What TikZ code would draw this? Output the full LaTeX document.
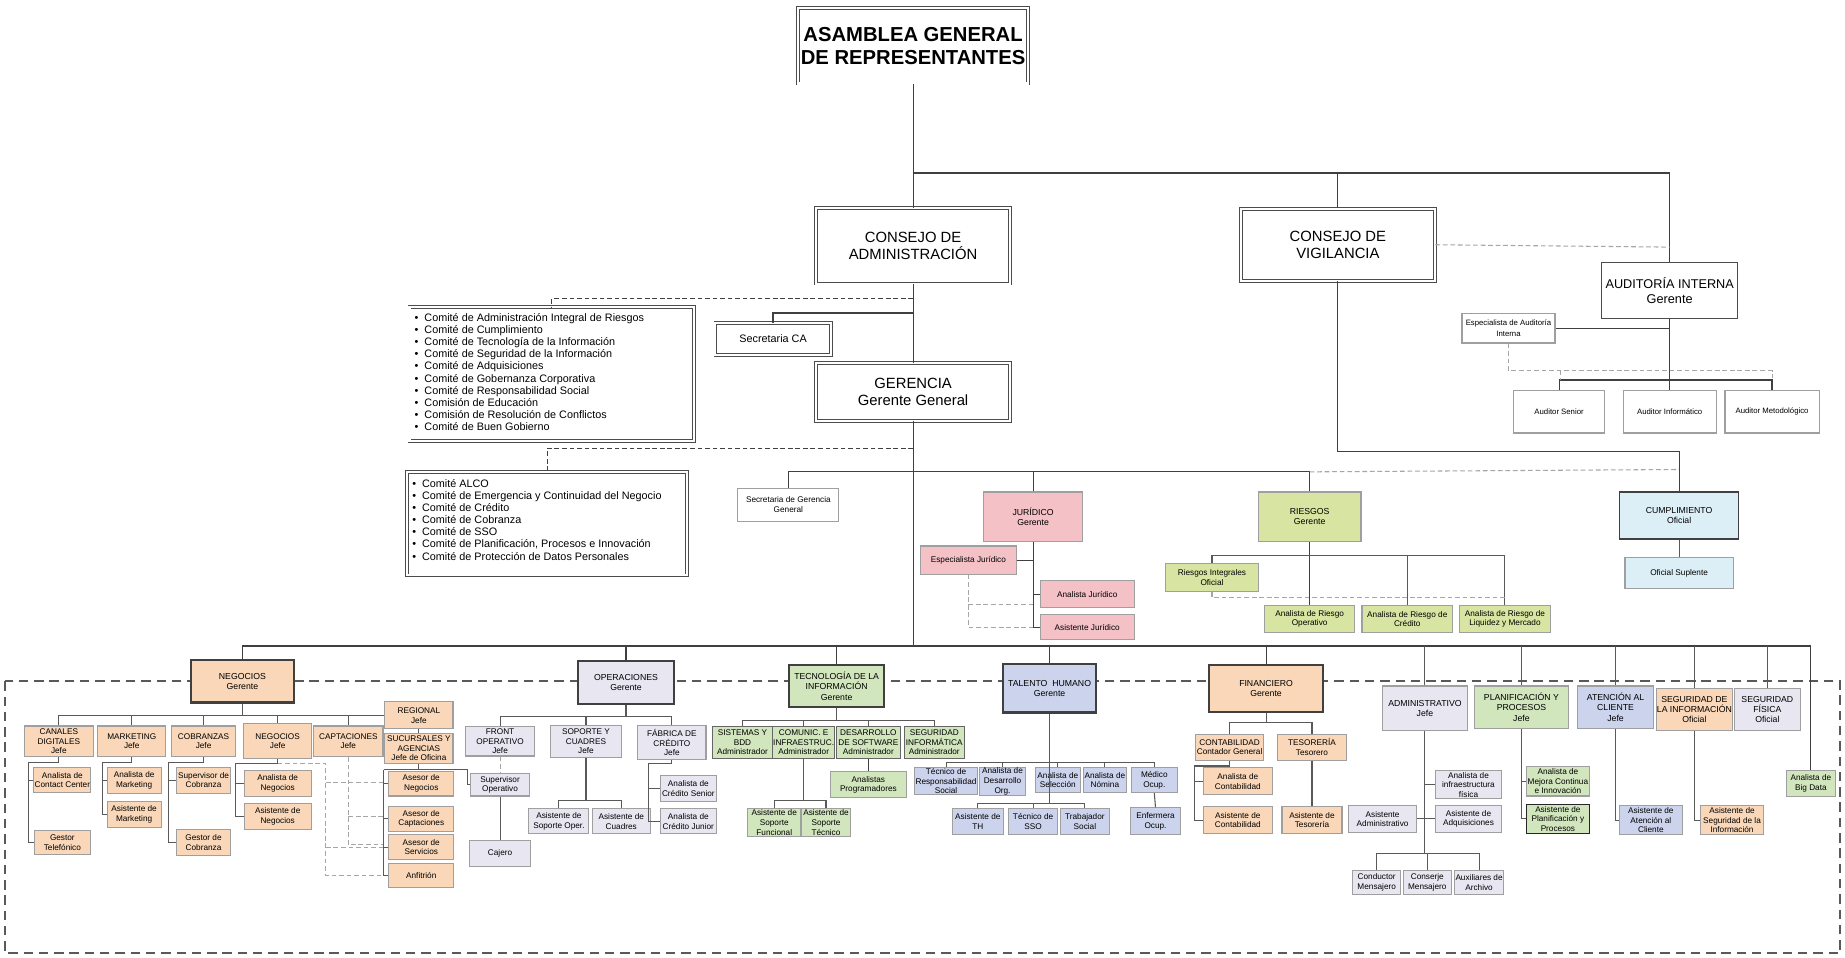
\documentclass[tikz,border=0pt]{standalone}
\usepackage{fontspec}
\setmainfont{Liberation Sans}
\newcommand\tny{\fontsize{3.5}{4.1}\selectfont}
\newcommand\hd{\fontsize{3.7}{4.4}\selectfont}
\definecolor{peach}{HTML}{F9D7B8}
\definecolor{lav}{HTML}{E8E6F0}
\definecolor{grn}{HTML}{D2E6BE}
\definecolor{blu}{HTML}{CCD3EC}
\definecolor{pnk}{HTML}{F4C1C6}
\definecolor{rsk}{HTML}{D8E4A1}
\definecolor{cyn}{HTML}{DCEEF6}
\newcommand\bx[6]{\node[#1, minimum width={#4*0.5pt}, minimum height={#5*0.5pt}] (#2) at (#3) {#6};}
\tikzset{
 box/.style={draw=gray!75, fill=white, align=center, inner sep=0.3pt, font=\tny, line width=0.45pt},
 head/.style={box, draw=black!75, line width=0.9pt, font=\hd},
 dbl/.style={draw=black!70, double=white, double distance=0.9pt, line width=0.35pt, align=center, inner sep=1pt},
 ln/.style={draw=gray!70!black, line width=0.45pt},
 tr/.style={draw=black!75, line width=0.5pt},
 dsh/.style={draw=gray!70, line width=0.45pt, dash pattern=on 2pt off 1.2pt},
}
\begin{document}
\begin{tikzpicture}[x=0.5pt,y=-0.5pt]
\useasboundingbox (0,0) rectangle (1568,814);
\fill[white] (0,0) rectangle (1568,814);
\draw[draw=black!65, line width=0.8pt, dash pattern=on 4pt off 2.5pt] (4,579) rectangle (1564,810);

% ---------- top ----------
\bx{dbl, font=\fontsize{8.6}{9.6}\selectfont\bfseries}{asam}{776,39}{195}{64}{ASAMBLEA GENERAL\\DE REPRESENTANTES}
\bx{dbl, font=\fontsize{6.3}{7.3}\selectfont}{cadm}{776,209}{165}{64}{CONSEJO DE\\ADMINISTRACIÓN}
\bx{dbl, font=\fontsize{6.3}{7.3}\selectfont}{cvig}{1137,208}{165}{61}{CONSEJO DE\\VIGILANCIA}
\bx{box, draw=black!70, font=\fontsize{5.4}{6.3}\selectfont}{audi}{1419,247}{116}{48}{AUDITORÍA INTERNA\\Gerente}
\bx{box, font=\fontsize{3.3}{4.6}\selectfont}{espa}{1282,279}{79}{25}{Especialista de Auditoría\\Interna}
\bx{box, font=\fontsize{3.3}{4}\selectfont}{asen}{1325,350}{77}{36}{Auditor Senior}
\bx{box, font=\fontsize{3.3}{4}\selectfont}{ainf}{1419,350}{79}{36}{Auditor Informático}
\bx{box, font=\fontsize{3.3}{4}\selectfont}{amet}{1506,350}{80}{36}{Auditor Metodológico}
\bx{dbl, font=\fontsize{4.6}{5.2}\selectfont}{secca}{657,288}{98}{27}{Secretaria CA}
\bx{dbl, font=\fontsize{6.3}{7.3}\selectfont}{ger}{776,333}{165}{49}{GERENCIA\\Gerente General}

\node[dbl, minimum width=121pt, minimum height=57pt, inner sep=0pt] (com1) at (469,318) {};
\node[anchor=north west, font=\fontsize{4.6}{5.15}\selectfont, align=left, inner sep=0pt] (com1t) at (352,266) {%
\textbullet\ \ Comité de Administración Integral de Riesgos\\
\textbullet\ \ Comité de Cumplimiento\\
\textbullet\ \ Comité de Tecnología de la Información\\
\textbullet\ \ Comité de Seguridad de la Información\\
\textbullet\ \ Comité de Adquisiciones\\
\textbullet\ \ Comité de Gobernanza Corporativa\\
\textbullet\ \ Comité de Responsabilidad Social\\
\textbullet\ \ Comisión de Educación\\
\textbullet\ \ Comisión de Resolución de Conflictos\\
\textbullet\ \ Comité de Buen Gobierno}; 
\node[dbl, minimum width=119pt, minimum height=44pt, inner sep=0pt] (com2) at (465,445) {};
\node[anchor=north west, font=\fontsize{4.6}{5.15}\selectfont, align=left, inner sep=0pt] (com2t) at (350,407) {%
\textbullet\ \ Comité ALCO\\
\textbullet\ \ Comité de Emergencia y Continuidad del Negocio\\
\textbullet\ \ Comité de Crédito\\
\textbullet\ \ Comité de Cobranza\\
\textbullet\ \ Comité de SSO\\
\textbullet\ \ Comité de Planificación, Procesos e Innovación\\
\textbullet\ \ Comité de Protección de Datos Personales};

\bx{box}{secg}{670,429}{86}{28}{Secretaria de Gerencia\\General}
\bx{head, fill=pnk, draw=gray!75, line width=0.6pt}{jur}{878,439}{84}{42}{JURÍDICO\\Gerente}
\bx{box, fill=pnk}{espj}{823,476}{81}{24}{Especialista Jurídico}
\bx{box, fill=pnk}{anj}{924,505}{80}{23}{Analista Jurídico}
\bx{box, fill=pnk}{asj}{924,533}{80}{21}{Asistente Jurídico}
\bx{head, fill=rsk, draw=gray!75, line width=0.6pt}{ries}{1113,439}{87}{42}{RIESGOS\\Gerente}
\bx{box, fill=rsk}{rint}{1030,491}{79}{24}{Riesgos Integrales\\Oficial}
\bx{box, fill=rsk}{rop}{1113,526}{77}{23}{Analista de Riesgo\\Operativo}
\bx{box, fill=rsk}{rcr}{1196,526}{77}{23}{Analista de Riesgo de\\Crédito}
\bx{box, fill=rsk}{rliq}{1279,526}{77}{23}{Analista de Riesgo de\\Liquidez y Mercado}
\bx{head, fill=cyn, line width=0.6pt}{cump}{1427,438}{101}{40}{CUMPLIMIENTO\\Oficial}
\bx{box, fill=cyn}{supl}{1427,487}{92}{27}{Oficial Suplente}

% ---------- level 2 ----------
\bx{head, fill=peach}{neg}{206,579}{87}{36}{NEGOCIOS\\Gerente}
\bx{head, fill=lav}{ope}{532,580}{81}{37}{OPERACIONES\\Gerente}
\bx{head, fill=grn}{ti}{711,583}{81}{36}{TECNOLOGÍA DE LA\\INFORMACIÓN\\Gerente}
\bx{head, fill=blu}{th}{892,585}{79}{41}{TALENTO\ \ HUMANO\\Gerente}
\bx{head, fill=peach}{fin}{1076,585}{97}{40}{FINANCIERO\\Gerente}
\bx{box, fill=lav, font=\hd}{adm}{1211,602}{72}{38}{ADMINISTRATIVO\\Jefe}
\bx{box, fill=grn, font=\hd}{plan}{1293,601}{80}{36}{PLANIFICACIÓN Y\\PROCESOS\\Jefe}
\bx{box, fill=blu, font=\hd}{aten}{1373,601}{64}{36}{ATENCIÓN AL\\CLIENTE\\Jefe}
\bx{box, fill=peach, font=\hd}{sinf}{1440,603}{61}{36}{SEGURIDAD DE\\LA INFORMACIÓN\\Oficial}
\bx{box, fill=lav, font=\hd}{sfis}{1502,603}{56}{36}{SEGURIDAD\\FÍSICA\\Oficial}
\bx{box, fill=grn}{bigd}{1539,666}{42}{22}{Analista de\\Big Data}

% Negocios
\bx{box, fill=peach}{can}{50,630}{59}{26}{CANALES\\DIGITALES\\Jefe}
\bx{box, fill=peach}{mkt}{112,630}{58}{26}{MARKETING\\Jefe}
\bx{box, fill=peach}{cob}{173,630}{54}{26}{COBRANZAS\\Jefe}
\bx{box, fill=peach}{negj}{236,630}{58}{30}{NEGOCIOS\\Jefe}
\bx{box, fill=peach}{capt}{296,630}{59}{26}{CAPTACIONES\\Jefe}
\bx{box, fill=peach}{reg}{356,608}{58}{23}{REGIONAL\\Jefe}
\bx{box, fill=peach}{suc}{356,636}{58}{25}{SUCURSALES Y\\AGENCIAS\\Jefe de Oficina}
\bx{box, fill=peach}{acc}{53,663}{48}{21}{Analista de\\Contact Center}
\bx{box, fill=peach}{gtel}{53,716}{48}{21}{Gestor\\Telefónico}
\bx{box, fill=peach}{anmk}{114,663}{46}{22}{Analista de\\Marketing}
\bx{box, fill=peach}{asmk}{114,692}{46}{22}{Asistente de\\Marketing}
\bx{box, fill=peach}{scob}{173,663}{46}{22}{Supervisor de\\Cobranza}
\bx{box, fill=peach}{gcob}{173,716}{46}{22}{Gestor de\\Cobranza}
\bx{box, fill=peach}{anneg}{236,666}{57}{22}{Analista de\\Negocios}
\bx{box, fill=peach}{asneg}{236,694}{57}{22}{Asistente de\\Negocios}
\bx{box, fill=peach}{aneg}{358,666}{55}{21}{Asesor de\\Negocios}
\bx{box, fill=peach}{acap}{358,696}{55}{21}{Asesor de\\Captaciones}
\bx{box, fill=peach}{aser}{358,720}{55}{21}{Asesor de\\Servicios}
\bx{box, fill=peach}{anf}{358,744}{55}{21}{Anfitrión}

% Operaciones
\bx{box, fill=lav}{fro}{425,630}{58}{25}{FRONT\\OPERATIVO\\Jefe}
\bx{box, fill=lav}{sop}{498,630}{61}{27}{SOPORTE Y\\CUADRES\\Jefe}
\bx{box, fill=lav}{fab}{571,631}{58}{29}{FÁBRICA DE\\CRÉDITO\\Jefe}
\bx{box, fill=lav}{sup}{425,667}{50}{19}{Supervisor\\Operativo}
\bx{box, fill=lav}{caj}{425,725}{52}{22}{Cajero}
\bx{box, fill=lav}{asop}{475,698}{51}{21}{Asistente de\\Soporte Oper.}
\bx{box, fill=lav}{acua}{528,698}{49}{21}{Asistente de\\Cuadres}
\bx{box, fill=lav}{acs}{585,670}{48}{22}{Analista de\\Crédito Senior}
\bx{box, fill=lav}{acj}{585,698}{48}{21}{Analista de\\Crédito Junior}

% TI
\bx{box, fill=grn, draw=black!60}{sis}{631,631}{51}{27}{SISTEMAS Y\\BDD\\Administrador}
\bx{box, fill=grn, draw=black!60}{com}{683,631}{49}{27}{COMUNIC. E\\INFRAESTRUC.\\Administrador}
\bx{box, fill=grn, draw=black!60}{des}{738,631}{54}{27}{DESARROLLO\\DE SOFTWARE\\Administrador}
\bx{box, fill=grn, draw=black!60}{seg}{794,631}{51}{27}{SEGURIDAD\\INFORMÁTICA\\Administrador}
\bx{box, fill=grn}{apro}{738,667}{64}{22}{Analistas\\Programadores}
\bx{box, fill=grn}{asf}{658,699}{45}{24}{Asistente de\\Soporte\\Funcional}
\bx{box, fill=grn}{ast}{702,699}{41}{24}{Asistente de\\Soporte\\Técnico}

% Talento
\bx{box, fill=blu}{trs}{804,664}{53}{23}{Técnico de\\Responsabilidad\\Social}
\bx{box, fill=blu}{ado}{852,664}{39}{23}{Analista de\\Desarrollo\\Org.}
\bx{box, fill=blu}{asel}{899,663}{38}{21}{Analista de\\Selección}
\bx{box, fill=blu}{anom}{939,663}{37}{21}{Analista de\\Nómina}
\bx{box, fill=blu}{med}{981,663}{39}{21}{Médico\\Ocup.}
\bx{box, fill=blu}{enf}{982,698}{43}{23}{Enfermera\\Ocup.}
\bx{box, fill=blu}{ath}{831,698}{43}{22}{Asistente de\\TH}
\bx{box, fill=blu}{tsso}{878,698}{42}{22}{Técnico de\\SSO}
\bx{box, fill=blu}{tsoc}{922,698}{42}{22}{Trabajador\\Social}

% Financiero
\bx{box, fill=peach}{cont}{1045,635}{58}{22}{CONTABILIDAD\\Contador General}
\bx{box, fill=peach}{tes}{1115,635}{58}{22}{TESORERÍA\\Tesorero}
\bx{box, fill=peach}{ancont}{1052,664}{59}{23}{Analista de\\Contabilidad}
\bx{box, fill=peach}{ascont}{1052,697}{59}{23}{Asistente de\\Contabilidad}
\bx{box, fill=peach}{astes}{1115,697}{51}{23}{Asistente de\\Tesorería}

% Administrativo
\bx{box, fill=lav}{ainfra}{1248,667}{56}{24}{Analista de\\infraestructura\\física}
\bx{box, fill=lav}{asadq}{1248,696}{56}{23}{Asistente de\\Adquisiciones}
\bx{box, fill=lav}{asadm}{1175,696}{58}{23}{Asistente\\Administrativo}
\bx{box, fill=lav}{cond}{1170,750}{41}{21}{Conductor\\Mensajero}
\bx{box, fill=lav}{cons}{1213,750}{41}{21}{Conserje\\Mensajero}
\bx{box, fill=lav}{aux}{1257,750}{41}{21}{Auxiliares de\\Archivo}

\bx{box, fill=grn}{amej}{1324,664}{54}{25}{Analista de\\Mejora Continua\\e Innovación}
\bx{box, fill=grn, draw=black!85}{asplan}{1324,696}{54}{25}{Asistente de\\Planificación y\\Procesos}
\bx{box, fill=blu}{asat}{1403,697}{54}{25}{Asistente de\\Atención al\\Cliente}
\bx{box, fill=peach}{assi}{1472,697}{54}{25}{Asistente de\\Seguridad de la\\Información}

% ---------- connectors ----------
\draw[tr] (asam.south) -- (cadm.north);
\draw[tr] (776,147) -| (cvig.north);
\draw[tr] (776,147) -| (audi.north);
\draw[dsh] (cvig.east) -- (1419,210);
\draw[tr] (cadm.south) -- (ger.north);
\draw[tr] (776,266) -| (secca.north);
\draw[tr, dash pattern=on 2pt off 1.2pt] (776,254) -| (com1.north);
\draw[tr] (ger.south) -- (776,549);
\draw[tr, dash pattern=on 2pt off 1.2pt] (776,381) -| (com2.north);
\draw[tr] (secg.north) |- (776,401) -| (ries.north);
\draw[tr] (878,401) -- (jur.north);
\draw[dsh] (1113,401) -- (1427,399);
\draw[tr] (cvig.south) |- (1427,384) -- (cump.north);
\draw[ln] (cump.south) -- (supl.north);
% auditoria
\draw[tr] (audi.south) -- (ainf.north);
\draw[tr] (espa.east) -- (1419,279);
\draw[tr] (asen.north) |- (1419,323) -| (amet.north);
\draw[dsh] (espa.south) |- (1506,315) -- (1506,323);
\draw[dsh] (1326,315) -- (1326,323);
% juridico
\draw[tr] (jur.south) |- (asj.west);
\draw[tr] (878,505) -- (anj.west);
\draw[tr] (espj.east) -- (878,476);
\draw[dsh] (espj.south) |- (878,533);
\draw[dsh] (823,514) -- (878,514);
% riesgos
\draw[tr] (ries.south) -- (rop.north);
\draw[ln] (rint.north) |- (1113,472) -| (rliq.north);
\draw[ln] (1196,472) -- (rcr.north);
\draw[dsh] (rint.south) |- (1279,508);
% main bus
\draw[tr] (neg.north) |- (776,549) -| (bigd.north);
\foreach \n in {ope,ti,th,fin} \draw[tr] (\n.north) -- (\n.north|-0,549);
\foreach \n in {adm,plan,aten,sinf,sfis} \draw[ln] (\n.north) -- (\n.north|-0,549);
% negocios
\draw[ln] (neg.south) -- (206,608);
\draw[ln] (can.north) |- (reg.west);
\foreach \n in {mkt,cob,negj,capt} \draw[ln] (\n.north) -- (\n.north|-0,608);
\draw[ln] (reg.south) -- (suc.north);
\draw[ln] (can.south) -- (50,648) -| (24,716) -- (gtel.west);
\draw[ln] (24,663) -- (acc.west);
\draw[ln] (mkt.south) -- (112,648) -| (87,692) -- (asmk.west);
\draw[ln] (87,663) -- (anmk.west);
\draw[ln] (cob.south) -- (173,648) -| (143,716) -- (gcob.west);
\draw[ln] (143,663) -- (scob.west);
\draw[ln] (negj.south) -- (236,649) -| (200,694) -- (asneg.west);
\draw[ln] (200,666) -- (anneg.west);
\draw[dsh] (236,649) -| (277,744) -- (326,744);
\draw[dsh] (277,665) -- (326,665);
\draw[dsh] (277,720) -- (326,720);
\draw[dsh] (capt.south) |- (326,718);
\draw[dsh] (296,694) -- (326,694);
\draw[ln] (suc.south) -- (356,654);
\draw[ln] (326,654) -- (397,654) |- (sup.west);
\draw[ln] (326,654) |- (anf.west);
\draw[ln] (326,666) -- (aneg.west);
\draw[ln] (326,696) -- (acap.west);
\draw[ln] (326,720) -- (aser.west);
% operaciones
\draw[ln] (ope.south) -- (532,609);
\draw[ln] (fro.north) |- (532,609) -| (fab.north);
\draw[ln] (sop.north) -- (498,609);
\draw[dsh] (fro.south) -- (sup.north);
\draw[ln] (sup.south) -- (caj.north);
\draw[ln] (sop.south) -- (498,680);
\draw[ln] (asop.north) |- (498,680) -| (acua.north);
\draw[ln] (fab.south) -- (571,649) -| (551,698) -- (acj.west);
\draw[ln] (551,670) -- (acs.west);
% TI
\draw[ln] (ti.south) -- (711,612);
\draw[ln] (sis.north) |- (711,612) -| (seg.north);
\draw[ln] (com.north) -- (683,612);
\draw[ln] (des.north) -- (738,612);
\draw[tr] (des.south) -- (apro.north);
\draw[ln] (com.south) -- (683,680);
\draw[ln] (asf.north) |- (683,680) -| (ast.north);
% talento
\draw[ln] (th.south) -- (892,683);
\draw[ln] (trs.north) |- (892,648) -| (med.north);
\foreach \n in {ado,asel,anom} \draw[ln] (\n.north) -- (\n.north|-0,648);
\draw[ln] (med.south) -- (enf.north);
\draw[ln] (ath.north) |- (892,683) -| (tsoc.north);
\draw[ln] (tsso.north) -- (878,683);
% financiero
\draw[ln] (fin.south) -- (1076,614);
\draw[ln] (cont.north) |- (1076,614) -| (tes.north);
\draw[ln] (cont.south) -- (1045,651) -| (1015,697) -- (ascont.west);
\draw[ln] (1015,664) -- (ancont.west);
\draw[ln] (tes.south) -- (astes.north);
% administrativo
\draw[ln] (adm.south) -- (1211,725);
\draw[ln] (1211,667) -- (ainfra.west);
\draw[ln] (asadm.east) -- (asadq.west);
\draw[ln] (cond.north) |- (1211,725) -| (aux.north);
\draw[ln] (cons.north) -- (1213,725);
\draw[ln] (plan.south) |- (asplan.west);
\draw[ln] (1293,664) -- (amej.west);
\draw[ln] (aten.south) |- (asat.west);
\draw[ln] (sinf.south) |- (assi.west);
\end{tikzpicture}
\end{document}
